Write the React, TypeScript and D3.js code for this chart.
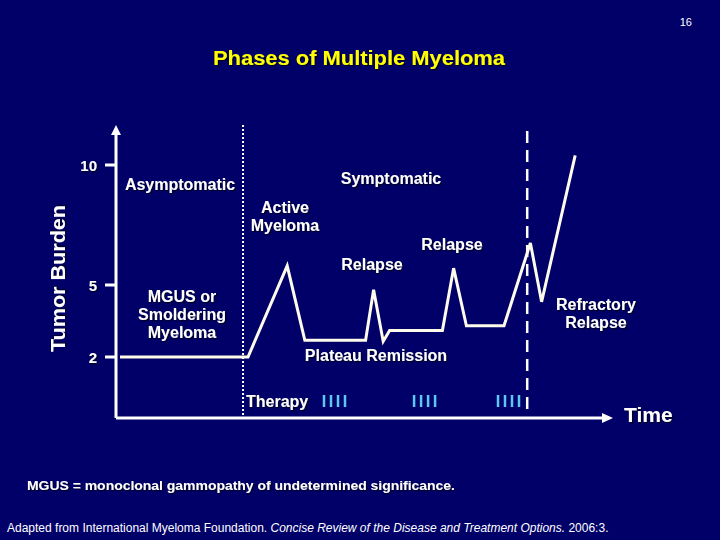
import React from 'react';
import * as d3 from 'd3';

const width = 720;
const height = 540;

// disease course: time (arbitrary units) vs tumor burden
const timePoints = [0.25, 8.25, 10.7, 11.8, 15.6, 16.1, 16.7, 17.1, 20.4, 21.1, 21.9, 24.25, 25.9, 26.6, 28.7];
const burden = [2, 2, 5.8, 2.7, 2.7, 4.8, 2.65, 3.1, 3.1, 5.7, 3.3, 3.3, 6.75, 4.3, 10.4];

const yTicks = [2, 5, 10];
const therapyStarts = [13.0, 18.63, 23.875];
const dosesPerCourse = 4;
const doseGap = 0.4375;
const smolderingEnd = 7.94;
const refractoryStart = 25.7;

const font = '"Liberation Sans", Arial, sans-serif';

export default function App() {
  const x = d3.scaleLinear().domain([0, 31]).range([116, 612]);
  const y = d3.scaleLinear().domain([0, 10]).range([405, 165]);
  const axisY = 418;
  const axisTop = 125;

  const line = d3
    .line<number>()
    .x((_, i) => x(timePoints[i]))
    .y((d) => y(d));

  const doses = therapyStarts.flatMap((s) =>
    d3.range(dosesPerCourse).map((i) => s + i * doseGap)
  );

  const label = (t: string, cx: number, cy: number, size = 16, anchor = 'middle') => (
    <text
      key={t + cx + cy}
      x={cx}
      y={cy}
      fill="white"
      fontSize={size}
      fontWeight="bold"
      textAnchor={anchor}
      filter="url(#shadow)"
    >
      {t}
    </text>
  );

  return (
    <svg
      width={width}
      height={height}
      style={{ position: 'absolute', left: 0, top: 0, fontFamily: font }}
    >
      <defs>
        <filter id="shadow" x="-10%" y="-20%" width="130%" height="150%">
          <feDropShadow dx="1.2" dy="1.2" stdDeviation="0.6" floodColor="#000" floodOpacity="0.7" />
        </filter>
      </defs>
      <rect width={width} height={height} fill="#000068" />

      <text x={692} y={26} fill="white" fontSize={11} textAnchor="end">16</text>
      <text
        x={213}
        y={65}
        fill="#ffff00"
        fontSize={20}
        fontWeight="bold"
        textLength={292}
        lengthAdjust="spacingAndGlyphs"
        filter="url(#shadow)"
      >
        Phases of Multiple Myeloma
      </text>

      {/* phase boundaries */}
      <line
        x1={x(smolderingEnd)}
        x2={x(smolderingEnd)}
        y1={axisTop}
        y2={axisY}
        stroke="white"
        strokeWidth={2}
        strokeDasharray="2 2"
      />
      <line
        x1={x(refractoryStart)}
        x2={x(refractoryStart)}
        y1={131}
        y2={410}
        stroke="white"
        strokeWidth={2.5}
        strokeDasharray="12 7"
      />

      {/* axes */}
      <line x1={x(0)} x2={x(0)} y1={axisY} y2={axisTop + 8} stroke="white" strokeWidth={3} />
      <path d={`M${x(0) - 5},${axisTop + 10} L${x(0)},${axisTop} L${x(0) + 5},${axisTop + 10} Z`} fill="white" />
      <line x1={x(0)} x2={603} y1={axisY} y2={axisY} stroke="white" strokeWidth={3} />
      <path d={`M602,${axisY - 5} L613,${axisY} L602,${axisY + 5} Z`} fill="white" />

      {yTicks.map((t) => (
        <g key={t}>
          <line x1={x(0) - 11} x2={x(0)} y1={y(t)} y2={y(t)} stroke="white" strokeWidth={3} />
          <text
            x={97}
            y={y(t) + 5.5}
            fill="white"
            fontSize={15}
            fontWeight="bold"
            textAnchor="end"
            filter="url(#shadow)"
          >
            {t}
          </text>
        </g>
      ))}

      <text
        transform={`translate(65,${352}) rotate(-90)`}
        fill="white"
        fontSize={20}
        fontWeight="bold"
        textLength={147}
        lengthAdjust="spacingAndGlyphs"
        filter="url(#shadow)"
      >
        Tumor Burden
      </text>
      {label('Time', 624, 422, 21, 'start')}

      {/* disease course */}
      <path
        d={line(burden) ?? ''}
        fill="none"
        stroke="#fffbea"
        strokeWidth={3}
        strokeLinejoin="miter"
      />

      {/* therapy doses */}
      {doses.map((d, i) => (
        <line
          key={i}
          x1={x(d)}
          x2={x(d)}
          y1={395}
          y2={407}
          stroke="#5cc8f2"
          strokeWidth={2.5}
        />
      ))}

      {label('Asymptomatic', 180, 190)}
      {label('Symptomatic', 391, 184)}
      {label('Active', 285, 213)}
      {label('Myeloma', 285, 231)}
      {label('Relapse', 372, 270)}
      {label('Relapse', 452, 250)}
      {label('MGUS or', 182, 302)}
      {label('Smoldering', 182, 320)}
      {label('Myeloma', 182, 338)}
      {label('Refractory', 596, 310)}
      {label('Relapse', 596, 328)}
      {label('Plateau Remission', 376, 361)}
      {label('Therapy', 246, 407, 16, 'start')}

      <text
        x={27}
        y={490}
        fill="white"
        fontSize={13}
        fontWeight="bold"
        textLength={428}
        lengthAdjust="spacingAndGlyphs"
        filter="url(#shadow)"
      >
        MGUS = monoclonal gammopathy of undetermined significance.
      </text>
      <text
        x={7}
        y={532}
        fill="white"
        fontSize={12}
        style={{ fontFamily: '"Liberation Sans Narrow", "Liberation Sans", sans-serif' }}
      >
        Adapted from International Myeloma Foundation.{' '}
        <tspan fontStyle="italic">Concise Review of the Disease and Treatment Options.</tspan> 2006:3.
      </text>
    </svg>
  );
}
